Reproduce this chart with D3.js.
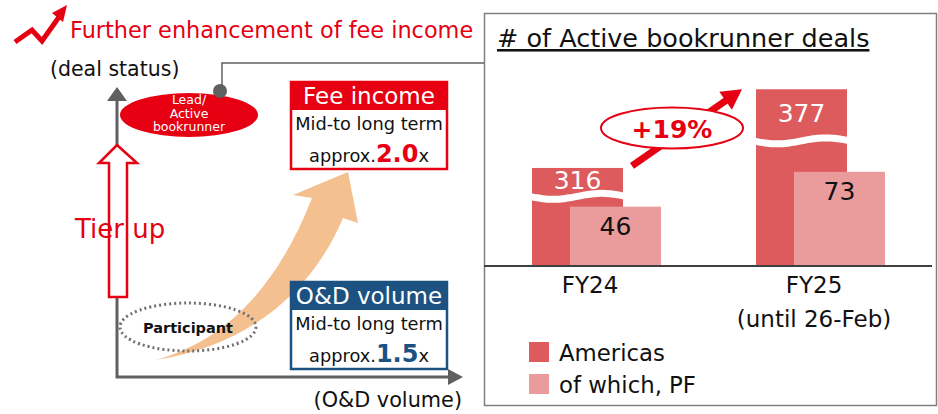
<!DOCTYPE html>
<html>
<head>
<meta charset="utf-8">
<script src="https://cdn.jsdelivr.net/npm/d3@7"></script>
<style>
    body { margin: 0; background: #fff; }
    svg { display: block; font-family: 'DejaVu Sans', Verdana, sans-serif; }
</style>
</head>
<body>
<svg width="938" height="414"></svg>
<script>
'use strict';

///////////////////////////// data ///////////////////////////
var categories = ['FY24', 'FY25'];
var categorySub = ['', '(until 26-Feb)'];
var americas = [316, 377];
var pf = [46, 73];
var breakAt = [294, 337];   // value where the Americas bar is cut
var axisBreak = 240;        // units removed from the Americas bars
var growthLabel = '+19%';
var seriesNames = ['Americas', 'of which, PF'];

var RED = '#e60012',
    BLUE = '#1b5282',
    GRAY = '#606060',
    C_AM = '#dd5a5d',
    C_PF = '#ea9b9b',
    ORANGE = '#f5c08f';

var svg = d3.select('svg');

///////////////////////////// right panel: bar chart ///////////////////////////
svg.append('rect')
    .attr('x', 484.5).attr('y', 13.5)
    .attr('width', 452).attr('height', 392)
    .attr('fill', '#fff')
    .attr('stroke', '#7f7f7f')
    .attr('stroke-width', 1.5);

svg.append('text')
    .attr('x', 497).attr('y', 47)
    .attr('font-size', 25.5)
    .attr('text-decoration', 'underline')
    .attr('fill', '#111')
    .text('# of Active bookrunner deals');

var x = d3.scalePoint().domain(categories).range([596, 820]);
var y = d3.scaleLinear().domain([0, 100]).range([266, 137]);
var barW = 91;

function wavePath(x0, x1, yc) {
    var pts = d3.range(0, 25).map(function(i) {
        return [x0 + (x1 - x0) * i / 24, yc + 3 * Math.sin(i / 24 * 2 * Math.PI)];
    });
    return d3.line().curve(d3.curveBasis)(pts);
}

var groups = svg.selectAll('.grp')
    .data(categories)
    .enter()
    .append('g')
    .attr('class', 'grp');

// Americas (truncated) bars
groups.append('rect')
    .attr('x', function(d) { return x(d) - 64; })
    .attr('y', function(d, i) { return y(americas[i] - axisBreak); })
    .attr('width', barW)
    .attr('height', function(d, i) { return y(0) - y(americas[i] - axisBreak); })
    .attr('fill', C_AM);

// break marks
groups.append('path')
    .attr('d', function(d, i) {
        return wavePath(x(d) - 67, x(d) - 64 + barW + 3, y(breakAt[i] - axisBreak));
    })
    .attr('fill', 'none')
    .attr('stroke', '#fff')
    .attr('stroke-width', 7);

groups.append('text')
    .attr('x', function(d) { return x(d) - 64 + barW / 2; })
    .attr('y', function(d, i) {
        var top = y(americas[i] - axisBreak), brk = y(breakAt[i] - axisBreak) - 4;
        return (top + brk) / 2 + 9;
    })
    .attr('text-anchor', 'middle')
    .attr('font-size', 25)
    .attr('fill', '#fff')
    .text(function(d, i) { return americas[i]; });

// PF bars
groups.append('rect')
    .attr('x', function(d) { return x(d) - 26; })
    .attr('y', function(d, i) { return y(pf[i]); })
    .attr('width', barW)
    .attr('height', function(d, i) { return y(0) - y(pf[i]); })
    .attr('fill', C_PF);

groups.append('text')
    .attr('x', function(d) { return x(d) - 26 + barW / 2; })
    .attr('y', function(d, i) { return y(pf[i]) + 28; })
    .attr('text-anchor', 'middle')
    .attr('font-size', 25)
    .attr('fill', '#111')
    .text(function(d, i) { return pf[i]; });

// baseline
svg.append('line')
    .attr('x1', 484).attr('x2', 932)
    .attr('y1', y(0)).attr('y2', y(0))
    .attr('stroke', '#404040')
    .attr('stroke-width', 2);

// category labels
groups.append('text')
    .attr('x', function(d) { return x(d) - 6; })
    .attr('y', 293)
    .attr('text-anchor', 'middle')
    .attr('font-size', 23)
    .attr('fill', '#111')
    .text(function(d) { return d; });
groups.append('text')
    .attr('x', function(d) { return x(d) - 6; })
    .attr('y', 327)
    .attr('text-anchor', 'middle')
    .attr('font-size', 23)
    .attr('fill', '#111')
    .text(function(d, i) { return categorySub[i]; });

// growth arrow + ellipse
var a0 = [x(categories[0]) + 36, y(americas[0] - axisBreak) - 2],
    a1 = [x(categories[1]) - 78, y(americas[1] - axisBreak)];
var ang = Math.atan2(a1[1] - a0[1], a1[0] - a0[0]),
    ux = Math.cos(ang), uy = Math.sin(ang);
var hb = [a1[0] - 20 * ux, a1[1] - 20 * uy];
svg.append('line')
    .attr('x1', a0[0]).attr('y1', a0[1])
    .attr('x2', hb[0] + 2 * ux).attr('y2', hb[1] + 2 * uy)
    .attr('stroke', RED)
    .attr('stroke-width', 7);
svg.append('polygon')
    .attr('points', [a1, [hb[0] - 11 * uy, hb[1] + 11 * ux], [hb[0] + 11 * uy, hb[1] - 11 * ux]].join(' '))
    .attr('fill', RED);
svg.append('ellipse')
    .attr('cx', 672).attr('cy', 128)
    .attr('rx', 71).attr('ry', 20.5)
    .attr('fill', '#fff')
    .attr('stroke', RED)
    .attr('stroke-width', 2);
svg.append('text')
    .attr('x', 672).attr('y', 138)
    .attr('text-anchor', 'middle')
    .attr('font-size', 25)
    .attr('font-weight', 'bold')
    .attr('fill', RED)
    .text(growthLabel);

// legend
var legend = svg.selectAll('.legend')
    .data(seriesNames)
    .enter()
    .append('g')
    .attr('class', 'legend')
    .attr('transform', function(d, i) { return 'translate(529,' + (342 + i * 32) + ')'; });
legend.append('rect')
    .attr('width', 20).attr('height', 20)
    .attr('fill', function(d, i) { return i === 0 ? C_AM : C_PF; });
legend.append('text')
    .attr('x', 30).attr('y', 19)
    .attr('font-size', 22.8)
    .attr('fill', '#111')
    .text(function(d) { return d; });

///////////////////////////// left panel: concept diagram ///////////////////////////
// headline icon
svg.append('polyline')
    .attr('points', '15,42 32,30 42,41 59,17')
    .attr('fill', 'none')
    .attr('stroke', RED)
    .attr('stroke-width', 5)
    .attr('stroke-linejoin', 'miter');
svg.append('polygon')
    .attr('points', '67,5 63,22 52,13')
    .attr('fill', RED);
svg.append('text')
    .attr('x', 70).attr('y', 38)
    .attr('font-size', 22.4)
    .attr('fill', RED)
    .text('Further enhancement of fee income');

svg.append('text')
    .attr('x', 50).attr('y', 76)
    .attr('font-size', 20.5)
    .attr('fill', '#111')
    .text('(deal status)');
svg.append('text')
    .attr('x', 462).attr('y', 407)
    .attr('text-anchor', 'end')
    .attr('font-size', 20.8)
    .attr('fill', '#111')
    .text('(O&D volume)');

// axes
svg.append('path')
    .attr('d', 'M117,99 L117,377 L450,377')
    .attr('fill', 'none')
    .attr('stroke', GRAY)
    .attr('stroke-width', 3);
svg.append('polygon').attr('points', '117,87 107,101 127,101').attr('fill', GRAY);
svg.append('polygon').attr('points', '463,377 448,369 448,385').attr('fill', GRAY);

// orange growth arrow
svg.append('path')
    .attr('d', 'M155,360 C230,340 280,280 312,198 L293,195 L348,172 L358,223 L343,218 C315,285 255,345 155,360 Z')
    .attr('fill', ORANGE);

// tier-up hollow arrow
svg.append('path')
    .attr('d', 'M117,145 L137,163 L127,163 L127,297 L109,297 L109,163 L99,163 Z')
    .attr('fill', '#fff')
    .attr('stroke', RED)
    .attr('stroke-width', 2.5);
svg.append('text')
    .attr('x', 75).attr('y', 238)
    .attr('font-size', 26)
    .attr('fill', RED)
    .text('Tier up');

// connector from lead bubble to right panel
svg.append('path')
    .attr('d', 'M222,91 L222,63 L484,63')
    .attr('fill', 'none')
    .attr('stroke', GRAY)
    .attr('stroke-width', 1.5);

// lead / active bookrunner bubble
svg.append('ellipse')
    .attr('cx', 189).attr('cy', 115)
    .attr('rx', 69).attr('ry', 22)
    .attr('fill', RED);
svg.selectAll('.lead-text')
    .data(['Lead/', 'Active', 'bookrunner'])
    .enter()
    .append('text')
    .attr('class', 'lead-text')
    .attr('x', 189)
    .attr('y', function(d, i) { return 104 + i * 13.5; })
    .attr('text-anchor', 'middle')
    .attr('font-size', 12.5)
    .attr('fill', '#fff')
    .text(function(d) { return d; });
svg.append('circle')
    .attr('cx', 220).attr('cy', 91).attr('r', 7)
    .attr('fill', GRAY);

// participant bubble
svg.append('ellipse')
    .attr('cx', 188).attr('cy', 327)
    .attr('rx', 68).attr('ry', 24)
    .attr('fill', 'none')
    .attr('stroke', '#707070')
    .attr('stroke-width', 3)
    .attr('stroke-dasharray', '2,3');
svg.append('text')
    .attr('x', 188).attr('y', 333)
    .attr('text-anchor', 'middle')
    .attr('font-size', 14.5)
    .attr('font-weight', 'bold')
    .attr('fill', '#111')
    .text('Participant');

// target boxes
function targetBox(top, color, title, mult) {
    var g = svg.append('g');
    g.append('rect')
        .attr('x', 291).attr('y', top)
        .attr('width', 156).attr('height', 87)
        .attr('fill', '#fff')
        .attr('stroke', color)
        .attr('stroke-width', 2.5);
    g.append('rect')
        .attr('x', 291).attr('y', top)
        .attr('width', 156).attr('height', 28)
        .attr('fill', color);
    g.append('text')
        .attr('x', 369).attr('y', top + 22)
        .attr('text-anchor', 'middle')
        .attr('font-size', 23)
        .attr('fill', '#fff')
        .text(title);
    g.append('text')
        .attr('x', 369).attr('y', top + 48)
        .attr('text-anchor', 'middle')
        .attr('font-size', 17.8)
        .attr('fill', '#111')
        .text('Mid-to long term');
    var t = g.append('text')
        .attr('x', 369).attr('y', top + 80)
        .attr('text-anchor', 'middle')
        .attr('font-size', 17.8)
        .attr('fill', '#111');
    t.append('tspan').text('approx.');
    t.append('tspan')
        .attr('font-size', 24)
        .attr('font-weight', 'bold')
        .attr('fill', color)
        .text(mult);
    t.append('tspan').text('x');
}
targetBox(82, RED, 'Fee income', '2.0');
targetBox(282, BLUE, 'O&D volume', '1.5');
</script>
</body>
</html>
